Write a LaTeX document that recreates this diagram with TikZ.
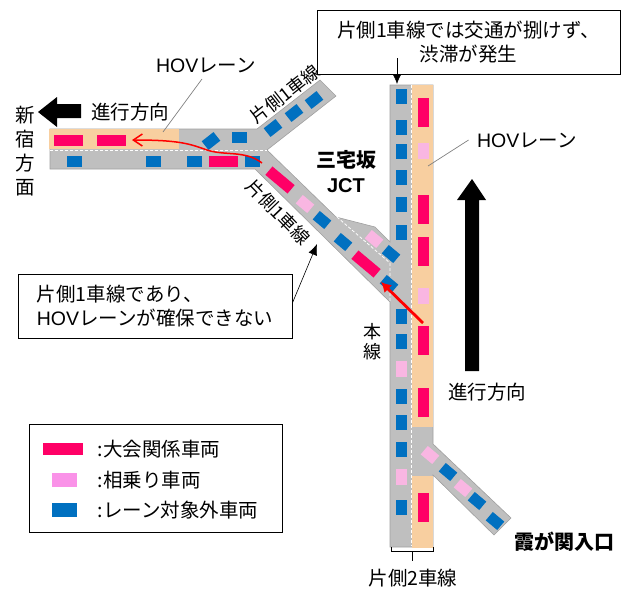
\documentclass[tikz,border=0pt]{standalone}
\usepackage{xcolor}
\usepackage{fontspec}
\setmainfont{Liberation Sans}
\newfontfamily\cjk{Noto Sans CJK JP}
\usetikzlibrary{arrows.meta,positioning}
\newcommand{\lat}[1]{{\rmfamily #1}}
\definecolor{colorRoad}{HTML}{BFBFBF}
\definecolor{colorEdge}{HTML}{A0A0A0}
\definecolor{colorLane}{HTML}{F8CFA0}
\definecolor{colorGames}{HTML}{FF0066}
\definecolor{colorShare}{HTML}{F9B6E2}
\definecolor{colorOther}{HTML}{0070C0}

\begin{document}
\begin{tikzpicture}[x=1pt,y=-1pt,every node/.append style={align=center,font=\cjk\fontsize{19.5}{24}\selectfont},
    car/.style={inner sep=0pt,minimum width=29pt,minimum height=11pt,fill=colorGames},
    share/.style={inner sep=0pt,minimum width=15pt,minimum height=11pt,fill=colorShare},
    other/.style={inner sep=0pt,minimum width=15pt,minimum height=11pt,fill=colorOther},
    note/.style={draw,thick,fill=white,inner sep=0pt},
    lanemark/.style={draw=white,densely dashed,line width=0.8pt},
    leader/.style={draw=gray,line width=0.7pt},]
    \useasboundingbox (0,0) rectangle (627,590);
    % roads
    \fill[colorRoad,draw=colorEdge,line width=0.6pt] (50,129) -- (257,129) -- (320,80) -- (336,96) -- (267,150) -- (336,217) -- (375,227) -- (390,242) -- (390,85) -- (433,85) -- (433,444) -- (511,518) -- (494,535) -- (433,475) -- (433,547) -- (390,547) -- (390,302) -- (255,169) -- (50,169) -- cycle;
    \fill[colorLane] (49,129) rectangle (179,149);
    \fill[colorLane] (412,85) rectangle (433,427);
    \fill[colorLane] (412,476) rectangle (433,548);
    \draw[lanemark] (50,150) -- (267,150);
    \draw[lanemark] (411,85) -- (411,546);
    \draw[lanemark] (337,217) -- (390,263) -- (390,302);
    % vehicles
    \foreach \x/\y [count=\i] in {68/140,111/140,223/161} \node[car] (carL\i) at (\x,\y) {};
    \foreach \y [count=\i] in {112,209,251,340,402,507} \node[car,minimum width=11pt,minimum height=29pt] (carM\i) at (423.5,\y) {};
    \foreach \x/\y [count=\i] in {280/180,366/264} \node[car,rotate=-40] (carD\i) at (\x,\y) {};
    \foreach \y [count=\i] in {151,296} \node[share,minimum width=11pt,minimum height=16pt] (shareM\i) at (423.5,\y) {};
    \foreach \y [count=\i] in {369,477} \node[share,minimum width=11pt,minimum height=16pt] (shareL\i) at (401,\y) {};
    \foreach \x/\y [count=\i] in {305/204,374/239,430/455,463/488} \node[share,rotate=-40] (shareD\i) at (\x,\y) {};
    \foreach \x/\y [count=\i] in {74/161,153/161,194/161,252/161,239/137} \node[other] (otherL\i) at (\x,\y) {};
    \foreach \y [count=\i] in {96,127,151,177,204,232,316,341,396,422,449,507} \node[other,minimum width=11pt,minimum height=15pt] (otherM\i) at (401,\y) {};
    \foreach \x/\y [count=\i] in {322/220,343/242,389/284,391/254,448/472,477/501,495/521} \node[other,rotate=-40] (otherD\i) at (\x,\y) {};
    \foreach \x/\y [count=\i] in {211/141,273/128,294/113,314/100} \node[other,rotate=38] (otherU\i) at (\x,\y) {};
    % red arrows
    \coordinate (swerveA) at (262,163);
    \coordinate (swerveB) at (132,140);
    \coordinate (mergeA) at (423,323);
    \coordinate (mergeB) at (381,282);
    \draw[red,line width=1.5pt,-{Straight Barb[length=9pt,width=12pt]}] (swerveA) .. controls (245,150) and (225,156) .. (207,150) .. controls (190,144) and (180,140) .. (swerveB);
    \draw[red,line width=2.8pt,-{Latex[length=10pt,width=11pt]}] (mergeA) -- (mergeB);
    % black arrows
    \fill[black] (38,112) -- (57,97) -- (57,104) -- (81,104) -- (81,118) -- (57,118) -- (57,127) -- cycle;
    \fill[black] (472,179) -- (486,200) -- (479,200) -- (479,371) -- (465,371) -- (465,200) -- (457,200) -- cycle;
    % labels
    \node (hovL) at (206,65) {\lat{HOV}レーン};
    \node (hovR) at (527,140) {\lat{HOV}レーン};
    \node (dirL) at (130,112) {進行方向};
    \node (dirR) at (487,392) {進行方向};
    \node (shinjuku) at (25,151) {新\\宿\\方\\面};
    \node[font=\cjk\fontsize{18}{20}\selectfont] (honsen) at (372,342) {本\\線};
    \node[rotate=38,font=\cjk\fontsize{18}{20}\selectfont] (oneU) at (285,94) {片側1車線};
    \node[rotate=-46,font=\cjk\fontsize{18}{20}\selectfont] (oneD) at (278,212) {片側1車線};
    \node[font=\cjk\bfseries\fontsize{20}{25}\selectfont] (jct) at (346,172) {三宅坂\\\lat{JCT}};
    \node[font=\cjk\bfseries\fontsize{20}{24}\selectfont] (kasumi) at (564,542) {霞が関入口};
    \node (twoB) at (413,578) {片側2車線};
    % notes
    \node[note,minimum width=303pt,minimum height=64pt] (noteT) at (468.5,42) {片側1車線では交通が捌けず、\\渋滞が発生};
    \node[note,minimum width=274pt,minimum height=64pt,align=left] (noteB) at (155,306) {片側1車線であり、\\\lat{HOV}レーンが確保できない};
    \coordinate (noteTin) at (397,58);
    \coordinate (roadT) at (397,84);
    \coordinate (roadD) at (317,244);
    \draw[-{Latex[length=10pt,width=9pt]},line width=0.6pt] (noteTin) -- (roadT);
    \draw[-{Latex[length=11pt,width=9pt]},line width=0.6pt] ([yshift=3pt]noteB.east) -- (roadD);
    \coordinate (laneL) at (163,132);
    \coordinate (laneR) at (428,166);
    \draw[leader] (hovL.south) ++(-4,3) coordinate (hovLf) -- (laneL);
    \draw[leader] (hovR.west) ++(-5,0) coordinate (hovRf) -- (laneR);
    % bracket
    \coordinate (brL) at (391,547);
    \coordinate (brR) at (433,547);
    \coordinate (brM) at (412,551);
    \draw[line width=0.7pt] (brL) -- (391,551) -- (433,551) -- (brR);
    \draw[line width=0.7pt] (brM) -- (412,561);
    % legend
    \node[note,minimum width=253pt,minimum height=108pt] (legend) at (155.5,478) {};
    \node[car,minimum width=40pt,minimum height=12pt] (keyCar) at (63,449) {};
    \node[share,fill=colorShare!80!magenta,minimum width=25pt,minimum height=14pt] (keyShare) at (64.5,480) {};
    \node[other,minimum width=25pt,minimum height=14pt] (keyOther) at (64.5,510) {};
    \node[right=11pt of keyCar] (txtCar) {:大会関係車両};
    \node[right=17pt of keyShare] (txtShare) {:相乗り車両};
    \node[right=17pt of keyOther] (txtOther) {:レーン対象外車両};
\end{tikzpicture}
\end{document}
